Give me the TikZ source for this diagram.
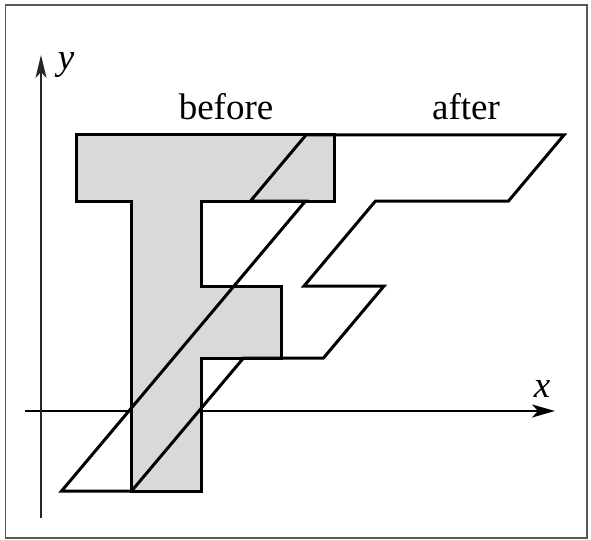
\documentclass[tikz,border=0pt]{standalone}
\usepackage{fontspec}
\setmainfont{Liberation Serif}
\usetikzlibrary{arrows.meta}
\begin{document}
\begin{tikzpicture}[x=1pt,y=-1pt,
  shapeline/.style={line width=3pt, line join=miter},
  beforefill/.style={shapeline, fill=black!15},
  axisline/.style={line width=1.8pt, -{Stealth[length=23pt,width=13pt,inset=6pt]}},
  lbl/.style={font=\fontsize{37}{40}\selectfont, inner sep=0pt, anchor=base}]
\useasboundingbox (0,0) rectangle (591,540);
\draw[black!65, line width=1.5pt] (5.5,5) rectangle (587,538);
% axes
\coordinate (xs) at (25,411);
\coordinate (xe) at (555,411);
\coordinate (ys) at (41,518);
\coordinate (ye) at (41,55);
\draw[axisline] (xs) -- (xe);
\draw[axisline, line width=1.5pt, black!85, -{Stealth[length=23pt,width=11pt,inset=6pt]}] (ys) -- (ye);
\node[lbl, font=\fontsize{37}{40}\selectfont\itshape] (xl) at (542,397) {x};
\node[lbl, font=\fontsize{37}{40}\selectfont\itshape] (yl) at (66,70) {y};
% before
\draw[beforefill] (76,135) -- (334,135) -- (334,201) -- (201,201) -- (201,286)
  -- (281,286) -- (281,358) -- (201,358) -- (201,491) -- (131,491) -- (131,201)
  -- (76,201) -- cycle;
% after (sheared copy)
\draw[shapeline] (306,135) -- (564,135) -- (508.5,201) -- (375.5,201) -- (304,286)
  -- (384,286) -- (323.5,358) -- (243.5,358) -- (131.6,491) -- (61.6,491) -- (305.5,201)
  -- (250.5,201) -- cycle;
\node[lbl] (before) at (226,120) {before};
\node[lbl] (after) at (466,120) {after};
\end{tikzpicture}
\end{document}
